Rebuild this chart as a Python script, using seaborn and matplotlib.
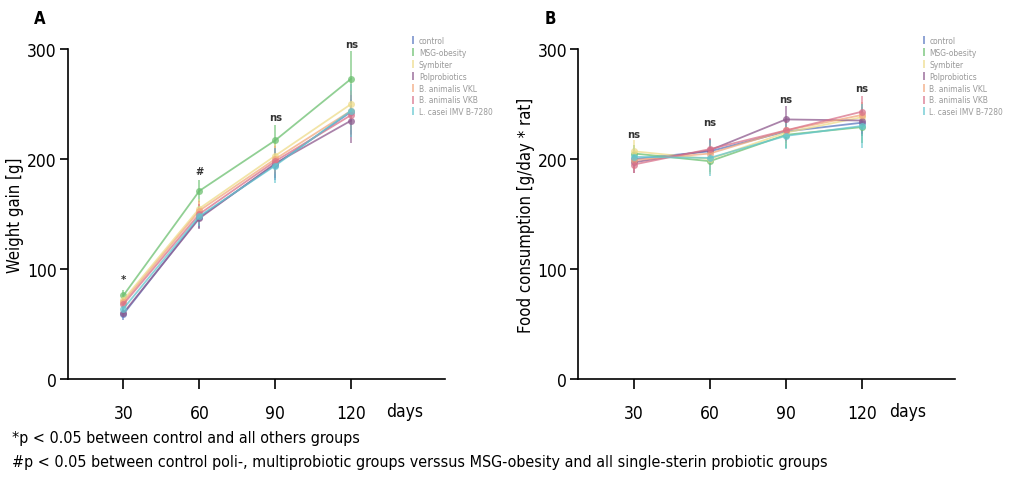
import pandas as pd
import matplotlib.pyplot as plt
import seaborn as sns
from matplotlib.lines import Line2D
from matplotlib import font_manager

sns.set_theme(style="ticks")
names = {f.name for f in font_manager.fontManager.ttflist}
cond = 'Liberation Sans Narrow' if 'Liberation Sans Narrow' in names else 'DejaVu Sans'
plt.rcParams['font.family'] = [cond, 'DejaVu Sans']
plt.rcParams['font.stretch'] = 'condensed'
plt.rcParams['text.color'] = 'black'
plt.rcParams['axes.labelcolor'] = 'black'

# Data
days = [30, 60, 90, 120]
groups = ["control", "MSG-obesity", "Symbiter", "Polprobiotics",
          "B. animalis VKL", "B. animalis VKB", "L. casei IMV B-7280"]
colors = ["#5b79c0", "#6cc070", "#eedc8a", "#8e5a8e", "#f2a97e", "#d9728a", "#63c6cf"]

weight = {
    "control":             [59, 147, 195, 243],
    "MSG-obesity":         [76, 171, 217, 273],
    "Symbiter":            [72, 155, 203, 250],
    "Polprobiotics":       [60, 146, 196, 235],
    "B. animalis VKL":     [70, 153, 200, 244],
    "B. animalis VKB":     [68, 150, 198, 240],
    "L. casei IMV B-7280": [64, 148, 194, 244],
}
weight_sd = {
    "control":             [5, 10, 14, 20],
    "MSG-obesity":         [5, 10, 14, 25],
    "Symbiter":            [4, 9, 12, 18],
    "Polprobiotics":       [4, 10, 13, 20],
    "B. animalis VKL":     [4, 9, 12, 18],
    "B. animalis VKB":     [4, 9, 12, 18],
    "L. casei IMV B-7280": [4, 9, 16, 24],
}
food = {
    "control":             [200, 207, 225, 233],
    "MSG-obesity":         [205, 198, 222, 229],
    "Symbiter":            [207, 200, 224, 238],
    "Polprobiotics":       [197, 208, 236, 235],
    "B. animalis VKL":     [199, 205, 226, 240],
    "B. animalis VKB":     [195, 209, 226, 243],
    "L. casei IMV B-7280": [202, 201, 221, 230],
}
food_sd = {
    "control":             [8, 10, 10, 12],
    "MSG-obesity":         [8, 10, 12, 14],
    "Symbiter":            [10, 14, 10, 12],
    "Polprobiotics":       [10, 10, 12, 12],
    "B. animalis VKL":     [8, 10, 10, 12],
    "B. animalis VKB":     [8, 10, 10, 14],
    "L. casei IMV B-7280": [8, 16, 12, 20],
}
weight_marks = ["*", "#", "ns", "ns"]
weight_mark_y = [91, 189, 238, 305]
food_marks = ["ns", "ns", "ns", "ns"]
food_mark_y = [223, 234, 255, 265]


def long_table(values):
    rows = []
    for g in groups:
        for d, v in zip(days, values[g]):
            rows.append({"day": d, "group": g, "value": v})
    return pd.DataFrame(rows)


fig = plt.figure(figsize=(10.11, 4.81), dpi=100)
axA = fig.add_axes([0.067, 0.210, 0.373, 0.686])
axB = fig.add_axes([0.572, 0.210, 0.373, 0.686])
palette = dict(zip(groups, colors))

panels = [
    (axA, weight, weight_sd, weight_marks, weight_mark_y, "Weight gain [g]", "A", 141),
    (axB, food, food_sd, food_marks, food_mark_y, "Food consumption [g/day * rat]", "B", 138),
]

for ax, vals, sds, marks, mark_y, ylabel, letter, days_x in panels:
    df = long_table(vals)
    for g in groups:
        ax.errorbar(days, vals[g], yerr=sds[g], fmt="none", ecolor=palette[g],
                    elinewidth=1.2, capsize=0, alpha=0.7, zorder=2)
    sns.lineplot(data=df, x="day", y="value", hue="group", palette=palette,
                 hue_order=groups, marker="o", markersize=5, markeredgewidth=0,
                 linewidth=1.3, alpha=0.75, legend=False, ax=ax, zorder=3)

    for d, m, y in zip(days, marks, mark_y):
        ax.text(d, y, m, ha="center", va="center", fontsize=8, fontweight="bold",
                color="#333333")

    ax.set_xlim(8, 157)
    ax.set_ylim(0, 300)
    ax.set_xticks(days)
    ax.set_yticks([0, 100, 200, 300])
    ax.set_xlabel("")
    ax.set_ylabel(ylabel, fontsize=12)
    ax.yaxis.set_label_coords(-0.115, 0.5)
    sns.despine(ax=ax)
    for s in ["left", "bottom"]:
        ax.spines[s].set_linewidth(1.2)
        ax.spines[s].set_color("black")
    ax.tick_params(axis="x", length=7, width=1.2, pad=11, labelsize=12.5, colors="black")
    ax.tick_params(axis="y", length=6, width=1.2, pad=2, labelsize=12.5, colors="black")
    ax.text(days_x, -0.098, "days", transform=ax.get_xaxis_transform(),
            ha="center", va="center", fontsize=12.5)
    ax.text(-0.075, 1.095, letter, transform=ax.transAxes, fontsize=12,
            fontweight="bold", ha="center", va="center")

    handles = [Line2D([], [], color=c, marker="|", linestyle="none", markersize=6,
                      markeredgewidth=1.2, alpha=0.8) for c in colors]
    leg = ax.legend(handles, groups, loc="upper left", bbox_to_anchor=(0.9, 1.05),
                    frameon=False, fontsize=6, handlelength=0.6, handletextpad=0.4,
                    labelspacing=0.35, borderaxespad=0)
    for t in leg.get_texts():
        t.set_color("#999999")

fig.text(0.012, 0.080, "*p < 0.05 between control and all others groups", fontsize=11.5)
fig.text(0.012, 0.030, "#p < 0.05 between control poli-, multiprobiotic groups verssus "
         "MSG-obesity and all single-sterin probiotic groups", fontsize=11.5)

fig.savefig("out.png", dpi=100)
